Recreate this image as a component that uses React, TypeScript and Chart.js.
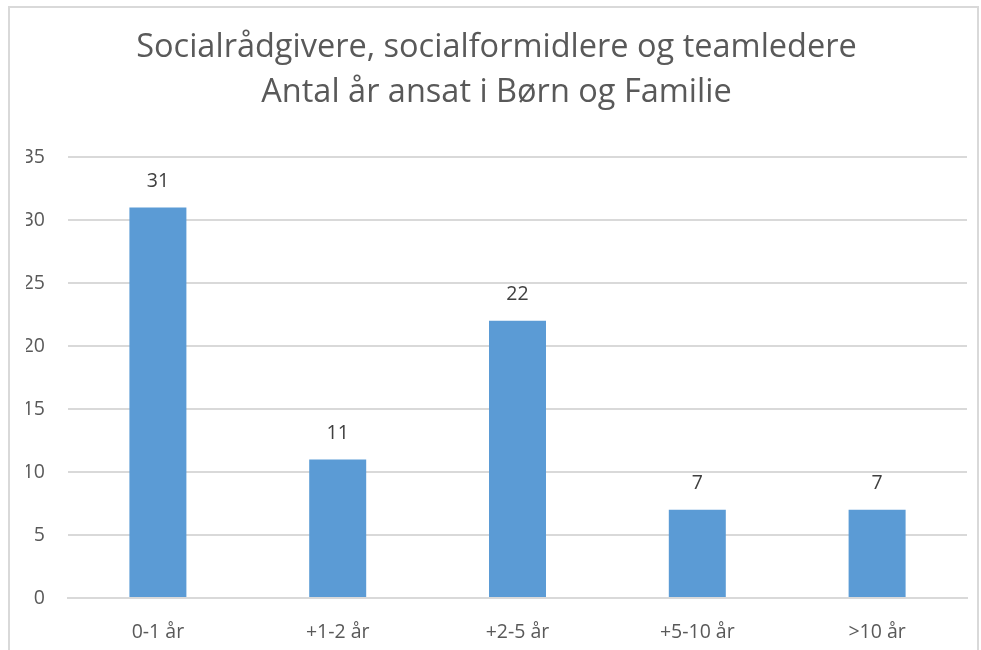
import React, { useEffect, useRef } from "react";
import { Chart, registerables } from "chart.js";

Chart.register(...registerables);

const titleLines = [
  "Socialrådgivere, socialformidlere og teamledere",
  "Antal år ansat i Børn og Familie",
];
const categories = ["0-1 år", "+1-2 år", "+2-5 år", "+5-10 år", ">10 år"];
const values = [31, 11, 22, 7, 7];
const yMin = 0;
const yMax = 35;
const yStep = 5;

const FONT = "'Open Sans', 'DejaVu Sans', sans-serif";

const framePlugin = {
  id: "frame",
  beforeDraw(chart: any) {
    const ctx = chart.ctx;
    ctx.save();
    ctx.fillStyle = "#ffffff";
    ctx.fillRect(0, 0, chart.width, chart.height);
    ctx.strokeStyle = "#d9d9d9";
    ctx.lineWidth = 2;
    ctx.beginPath();
    ctx.moveTo(9, chart.height + 5);
    ctx.lineTo(9, 7);
    ctx.lineTo(978, 7);
    ctx.lineTo(978, chart.height + 5);
    ctx.stroke();
    ctx.restore();
  },
};

const labelPlugin = {
  id: "barLabels",
  afterDatasetsDraw(chart: any) {
    const ctx = chart.ctx;
    const meta = chart.getDatasetMeta(0);
    const data = chart.data.datasets[0].data;
    ctx.save();
    ctx.font = `19.5px ${FONT}`;
    ctx.fillStyle = "#404040";
    ctx.textAlign = "center";
    ctx.textBaseline = "middle";
    meta.data.forEach((bar: any, i: number) => {
      ctx.fillText(String(data[i]), bar.x, bar.y - 26);
    });
    ctx.restore();
  },
};

export default function App() {
  const ref = useRef<HTMLCanvasElement>(null);

  useEffect(() => {
    if (!ref.current) return;
    const chart = new Chart(ref.current, {
      type: "bar",
      data: {
        labels: categories,
        datasets: [
          {
            data: values,
            backgroundColor: "#5b9bd5",
            borderWidth: 0,
            barPercentage: 0.317,
            categoryPercentage: 1,
          },
        ],
      },
      options: {
        responsive: false,
        animation: false,
        layout: { padding: { left: 26, right: 14, top: 0, bottom: 0 } },
        plugins: {
          legend: { display: false },
          tooltip: { enabled: false },
          title: {
            display: true,
            text: titleLines,
            color: "#595959",
            font: { family: FONT, size: 32.5, weight: "normal", lineHeight: 1.385 },
            padding: { top: 25, bottom: 42 },
          },
        },
        scales: {
          x: {
            afterFit(scale: any) {
              scale.height = 52;
            },
            grid: { display: false, drawTicks: false },
            border: { display: true, color: "#d9d9d9", width: 2 },
            ticks: {
              color: "#595959",
              font: { family: FONT, size: 19.5 },
              padding: 23,
            },
          },
          y: {
            min: yMin,
            max: yMax,
            afterFit(scale: any) {
              scale.width = 42;
            },
            grid: { color: "#d9d9d9", lineWidth: 2, drawTicks: false },
            border: { display: false },
            ticks: {
              stepSize: yStep,
              color: "#595959",
              font: { family: FONT, size: 19.5 },
              padding: 23,
            },
          },
        },
      },
      plugins: [framePlugin, labelPlugin],
    });
    return () => chart.destroy();
  }, []);

  return (
    <div style={{ position: "fixed", left: 0, top: 0, width: 981, height: 650 }}>
      <canvas ref={ref} width={981} height={650} style={{ display: "block" }} />
    </div>
  );
}
